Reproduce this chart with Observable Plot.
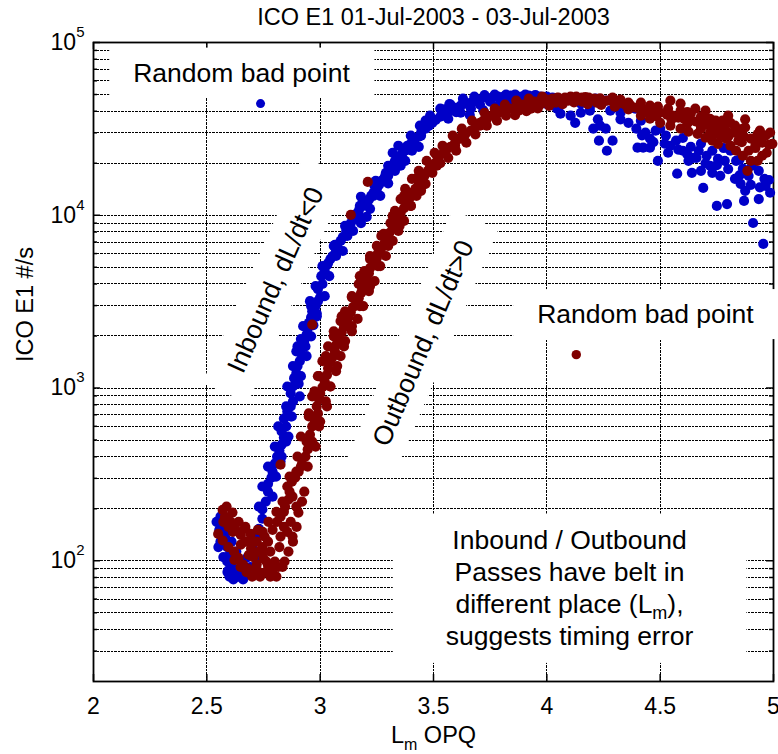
<!DOCTYPE html>
<html><head><meta charset="utf-8">
<script src="https://cdn.jsdelivr.net/npm/d3@7"></script>
<script src="https://cdn.jsdelivr.net/npm/@observablehq/plot@0.6"></script>
<style>
body{margin:0;background:#fff;}
svg{font-family:"Liberation Sans",Arial,sans-serif;}
</style></head><body><div id="chart"></div>
<script>
const title = "ICO E1 01-Jul-2003 - 03-Jul-2003";
const xLabel = "Lm OPQ";
const yLabel = "ICO E1 #/s";
const xTicks = [2, 2.5, 3, 3.5, 4, 4.5, 5];
const yTicks = [1e2, 1e3, 1e4, 1e5];
const yTickLabels = ["10^2", "10^3", "10^4", "10^5"];
const xGrid = [2.5, 3, 3.5, 4, 4.5];
const yGrid = [30,40,50,60,70,80,90,100,200,300,400,500,600,700,800,900,1000,2000,3000,4000,5000,6000,7000,8000,9000,10000,20000,30000,40000,50000,60000,70000,80000,90000];

// Inbound passes (dL/dt<0), [L, counts/s]
const inbound = [
[2.56,180],[2.57,157],[2.58,138],[2.59,120],[2.60,108],[2.61,95],[2.63,86],[2.64,81],[2.60,81],[2.59,99],[2.56,129],[2.555,151],[2.595,88],[2.65,84],[2.67,92],[2.65,99],
[2.543,168],[2.551,120],[2.573,105],[2.591,86],[2.617,78],[2.66,78],[2.63,113],[2.609,129],[2.587,151],[2.693,92],[2.715,105],
[2.68,105],[2.70,120],[2.715,138],[2.73,153],[2.745,175],[2.745,198],[2.76,220],[2.77,251],[2.77,279],[2.785,303],[2.79,328],[2.80,365],[2.81,401],[2.82,435],[2.83,470],[2.84,517],[2.83,560],[2.85,599],[2.84,665],[2.855,732],[2.87,782],[2.88,836],[2.87,930],[2.88,1020],[2.885,1140],[2.895,1220],[2.90,1340],[2.91,1430],[2.915,1590],[2.92,1740],[2.93,1870],[2.94,2040],[2.945,2200],[2.95,2380],[2.96,2560],[2.965,2780],[2.98,2980],[2.99,3180],[3.00,3350],[2.99,3740],[3.01,4000],[3.005,4440],[3.02,4750],[3.03,5150],[3.045,5580],[3.055,5810],[3.07,6210],[3.075,6640],[3.09,7100],[3.10,7480],[3.115,8110],[3.125,8550],[3.135,9000],[3.15,9520],[3.16,10200],[3.17,10590],[3.19,11330],[3.20,11800],[3.215,12300],[3.225,12950],[3.235,13500],[3.25,14200],[3.26,15000],[3.27,15820],[3.285,16700],[3.29,17600],[3.305,18600],[3.32,19600],[3.33,20670],[3.345,21800],[3.36,22700],[3.375,23630],[3.39,24600],[3.40,25900],[3.415,27000],[3.435,28500],[3.445,30100],[3.465,31700],[3.48,33000],[3.495,34300],[3.51,35700],[3.53,37200],[3.55,38200],[3.565,39700],[3.585,41000],[3.60,41900],[3.62,43100],[3.64,44300],[3.665,44900],[3.685,46070],[3.705,46700],[3.735,48000],[3.76,48000],[3.785,48600],[3.81,48600],[3.84,49250],[3.865,49250],[3.89,48600],[3.92,49250],[3.945,49250],[3.97,48600],[4.00,48600],[4.025,48000],[4.05,47300],[4.08,47300],[4.105,46700],[4.13,46070],
[2.73,206],[2.745,269],[2.77,351],[2.80,458],[2.815,599],[2.85,782],[2.855,1020],[2.88,1340],[2.90,1740],[2.925,2280],[2.96,2980],[2.98,3890],[3.01,5080],[3.06,6640],[3.11,8670],[3.175,11330],[3.24,14800],[3.30,19340],[3.385,25260],[3.475,32990],
[2.79,235],[2.805,307],[2.83,401],[2.86,524],[2.875,684],[2.91,894],[2.915,1170],[2.94,1530],[2.96,1990],[2.985,2600],[3.02,3400],[3.04,4440],[3.07,5810],[3.12,7590],[3.17,9910],[3.235,12950],[3.30,16920],[3.36,22100],[3.445,28870],[3.535,37710],
[2.97,2310],[2.915,1920],[2.895,1630],[2.935,1740],[2.87,684],[2.825,375],[2.85,490],[2.905,1060],[2.955,3180],[2.985,2700],[3.035,5290],[3.065,6730],[3.10,6210],[3.145,8110],[3.18,9000],[3.205,9780],[3.18,12800],[3.245,15820],[3.22,10900],[3.30,15300],[3.33,18090],[3.355,19340],[3.265,12950],[3.375,20670],[3.405,23630],[3.435,24900],[3.32,23000],[3.345,25260],[3.40,28870],[3.44,32990],[3.485,37710],[3.53,41400],[3.575,43700],[3.465,35270],[3.565,36200],[3.62,39200],[3.665,41400],[3.705,43700],[3.75,45500],[3.795,46070],[3.63,47300],[3.68,48600],[3.725,49600],[3.77,49900],[3.82,49900],[3.86,49900],[3.905,49900],[3.95,49600],
[3.55,41000],[3.60,39500],[3.66,38000],[3.72,40500],[3.78,42500],[3.84,44500],[3.88,45500],[3.93,46000],[3.99,45500],[4.04,43500],[3.70,45000],[3.57,44000],
[4.06,38700],[4.105,37710],[4.15,39200],[4.19,40310],[4.225,35900],[4.045,41400],[3.995,44300],[3.955,44900],[4.235,32990],[4.26,31700],[4.29,27010],[4.325,35900],[4.36,34300],[4.395,31700],[4.415,35270],[4.435,30100],[4.455,27800],[4.48,30860],[4.50,31700],[4.525,28870],[4.545,25260],[4.57,27010],[4.60,23630],[4.635,24900],[4.67,23630],[4.705,22100],[4.73,23630],[4.755,21200],[4.785,20670],[4.81,23630],[4.835,20670],[4.865,18600],[4.89,16920],[4.905,19340],[4.935,18090],[4.96,16250],
[4.42,29000],[4.47,26500],[4.52,26000],[4.58,24000],[4.62,22500],[4.66,21500],[4.70,20000],[4.75,19500],[4.80,18500],[4.85,17000],[4.90,15000],[4.94,14500],[4.98,16000],[4.60,28000],[4.68,26000],[4.78,24500],[4.85,21000],
[4.40,24600],[4.425,24600],[4.455,24600],[4.23,27010],[4.265,23630],[4.49,20670],[4.575,17400],[4.64,17600],[4.645,21500],[4.69,14400],[4.75,11330],[4.795,11600],[4.855,15200],[4.87,12110],[4.91,9020],[4.955,6820],[4.965,14800],[4.985,13500],[4.935,12400],[4.875,13840],[4.72,19340],[4.68,18090],[4.625,20670],[4.535,23000],[4.765,16920],[4.83,16250],[4.73,17600],[4.125,34300],[4.205,31700],
[4.17,47300],[4.215,47300],[4.26,46070],[4.30,44900],[4.345,43100],[4.39,41400],[4.15,44300],[4.19,42500],[4.28,40310],[4.325,39200]
];
const inboundBad = [[2.737, 44300]];

// Outbound passes (dL/dt>0), [L, counts/s]
const outbound = [
[2.57,197],[2.58,180],[2.605,168],[2.625,153],[2.65,141],[2.67,129],[2.695,118],[2.705,105],[2.72,95],[2.73,86],[2.55,143],[2.57,131],[2.595,120],[2.62,113],[2.64,104],[2.66,95],[2.68,90],[2.70,81],[2.735,81],[2.76,86],[2.77,94],[2.75,103],[2.73,113],[2.745,120],[2.77,129],[2.78,113],[2.80,99],[2.815,92],[2.79,151],[2.81,168],[2.825,180],[2.84,192],[2.84,157],[2.855,147],[2.845,206],[2.86,226],[2.865,251],[2.855,269],[2.875,287],[2.89,303],[2.905,328],[2.915,351],[2.88,129],[2.82,120],[2.87,168],[2.895,206],[2.92,220],[2.93,251],[2.825,138],[2.78,81],[2.715,90],[2.685,108],[2.65,124],[2.755,138],[2.725,151],[2.695,133],[2.67,157],[2.615,147],
[2.587,206],[2.613,190],[2.64,168],[2.666,153],[2.693,143],[2.72,129],[2.746,110],[2.763,99],[2.79,88],[2.807,81],[2.843,99],[2.86,113],[2.878,138],[2.896,157],[2.904,190],[2.878,235],[2.834,220],[2.807,192],[2.772,168],[2.746,147],[2.596,157],[2.573,168],[2.675,86],[2.649,92],[2.622,101],[2.834,92],
[2.92,365],[2.935,401],[2.945,441],[2.94,490],[2.955,538],[2.965,599],[2.975,657],[2.99,713],[2.985,782],[2.995,860],[3.00,930],[3.01,1010],[3.02,1090],[3.03,1190],[3.035,1300],[3.045,1410],[3.055,1510],[3.065,1630],[3.07,1770],[3.08,1920],[3.095,2100],[3.105,2250],[3.115,2410],[3.125,2560],[3.135,2740],[3.145,2940],[3.16,3140],[3.17,3310],[3.18,3540],[3.185,3790],[3.195,4050],[3.205,4320],[3.215,4620],[3.22,4940],[3.235,5290],[3.25,5650],[3.255,6040],[3.27,6460],[3.285,6910],[3.29,7390],[3.305,7890],[3.32,8430],[3.33,9020],[3.345,9650],[3.355,10300],[3.37,11000],[3.38,11800],[3.395,12600],[3.405,13500],[3.42,14200],[3.435,15000],[3.445,15820],[3.46,16920],[3.475,18090],[3.485,19100],[3.505,19900],[3.52,21200],[3.54,22700],[3.555,23630],[3.575,24900],[3.595,26300],[3.62,27800],[3.64,29400],[3.665,30860],[3.685,32500],[3.705,34300],[3.735,35900],[3.76,37710],[3.785,39200],[3.815,40310],[3.84,41400],[3.865,42500],[3.89,43700],[3.92,44900],[3.945,45500],[3.97,46070],[4.00,46700],[4.025,47300],[4.05,48000],[4.08,48000],[4.105,48600],[4.13,48600],[4.155,48000],[4.185,48000],[4.21,47300],[4.235,46700],[4.265,46070],[4.29,45500],[4.315,44300],[4.345,43700],[4.37,43100],[4.395,41900],[4.42,41400],[4.45,40310],[4.475,39700],[4.50,39200],[4.53,38200],[4.555,37710],[4.58,36700],[4.605,36200],[4.635,35270],[4.66,34800],[4.685,33800],[4.71,33400],[4.74,32500],[4.765,31700],[4.79,30860],[4.82,30100],[4.845,29400],[4.87,28500],[4.90,27800],[4.925,27010],[4.95,26300],[4.98,25600],
[2.865,307],[2.90,401],[2.915,524],[2.95,684],[2.965,894],[2.995,1170],[3.025,1530],[3.06,1990],[3.095,2600],[3.14,3400],[3.175,4440],[3.22,5810],[3.27,7590],[3.32,9910],[3.37,12950],[3.435,16920],[3.515,22100],[3.625,28870],[3.72,35270],
[2.945,351],[2.98,458],[2.995,599],[3.03,782],[3.045,1020],[3.075,1340],[3.105,1740],[3.14,2280],[3.175,2980],[3.22,3890],[3.255,5080],[3.30,6640],[3.35,8670],[3.40,11330],[3.45,14800],[3.515,19340],[3.595,25260],[3.705,32990],[3.80,40310],
[2.895,328],[2.965,490],[3.00,640],[2.95,713],[3.025,836],[2.975,956],[3.045,1020],[2.99,1170],[3.07,1250],[3.01,1430],[3.09,1530],[3.035,1740],[3.11,1870],[3.06,2130],[3.14,2130],[3.09,2440],[3.165,2510],[3.11,2780],[3.19,2980],[3.14,3350],[3.215,3640],[3.17,4000],[3.24,4160],[3.195,4750],[3.265,5080],[3.22,5580],[3.29,5810],[3.25,6640],[3.32,7100],[3.28,7800],[3.345,8110],[3.31,9020],[3.37,9270],[3.33,10590],[3.40,11330],[3.355,12400],[3.425,12950],[3.375,14200],[3.445,13840],[3.405,16250],[3.465,15200],[3.435,18090],[3.495,17600],[3.47,20670],[3.53,20000],[3.505,23000],[3.565,21500],[3.54,25260],[3.60,23630],[3.585,28870],[3.645,26300],[3.625,31700],[3.685,29400],[3.67,35270],[3.735,32990],[3.725,39200],[3.78,35270],[3.77,41400],[3.82,37710],[3.815,43700],[3.875,40310],[3.865,46070],[3.93,41400],[3.92,47300],[3.97,43700],[3.98,48600],[4.04,44900],[4.045,47800],[4.095,46070],[4.105,48300],[4.155,45500],[4.17,48300],[4.22,44900],[4.235,47500],[4.29,48000],[4.325,46700],[4.36,44900],[4.415,44900],[4.455,43100],[4.49,42500],[4.535,41400],[4.59,40310],[4.635,38700],[4.68,37200],[4.72,36200],[4.775,35270],[4.81,34300],[4.875,32300],[4.94,30860],[4.985,30100],
[3.86,38000],[3.91,40000],[3.96,41500],[4.01,43000],[4.07,44000],[4.12,45000],[4.18,44000],[4.24,43500],[4.30,42500],[4.36,41000],[4.43,39500],[4.48,37500],[4.55,35800],[4.62,34000],[4.68,33000],[4.74,30000],[4.80,28500],[4.86,26500],[4.92,24500],[4.97,23000],[4.62,39500],[4.70,36500],[4.78,33500],[4.86,31500],[4.93,29500],
[4.415,37710],[4.455,36200],[4.50,34300],[4.545,32990],[4.59,31700],[4.625,30500],[4.665,29600],[4.70,28100],[4.73,27010],[4.755,25900],[4.79,27800],[4.81,25260],[4.835,23630],[4.865,22100],[4.89,23630],[4.90,20670],[4.92,25260],[4.95,22100],[4.965,28870],[4.995,25900],[4.885,18090],[4.93,20670],[4.845,27010],[4.72,30100],[4.68,31700],[4.765,28870],[4.745,35270],[4.70,40310],[4.655,41400],[4.59,44300],[4.545,46070],[4.875,35900],[4.83,32990],[4.80,37710],
[3.21,15600],[3.135,10050],[2.965,2330],[2.825,360]
];
const outboundBad = [[4.13, 1560]];

// annotations (anchor in data units)
const notes = [
  {text: "Random bad point", L: 2.653, count: 66500, angle: 0},
  {text: "Random bad point", L: 4.435, count: 2660, angle: 0},
  {text: "Inbound, dL/dt<0", L: 2.805, count: 4220, angle: -66},
  {text: "Outbound, dL/dt>0", L: 3.456, count: 1815, angle: -67}
];
const noteBlock = [{text: "Inbound / Outbound\nPasses have belt in\ndifferent place (Lm),\nsuggests timing error", L: 4.10, count: 157}];

const blue = "#0000c8", red = "#800000";
const W = 778, H = 754, mL = 93, mR = 5, mT = 42, mB = 73;
const pW = W - mL - mR, pH = H - mT - mB;
const gridStyle = {stroke: "#000", strokeWidth: 1, strokeDasharray: "2.5,1", shapeRendering: "crispEdges"};
const tickStyle = {stroke: "#000", strokeWidth: 1.5};
const minorY = yGrid.filter(d => !yTicks.includes(d));

const plot = Plot.plot({
  width: W, height: H,
  marginLeft: mL, marginRight: mR, marginTop: mT, marginBottom: mB,
  style: {fontFamily: "'Liberation Sans', Arial, sans-serif", fontSize: "23px", background: "white", overflow: "visible"},
  x: {domain: [2, 5]},
  y: {type: "log", domain: [20, 1e5]},
  marks: [
    Plot.ruleY(yGrid, {y: d => d, ...gridStyle}),
    Plot.ruleX(xGrid, {x: d => d, ...gridStyle}),
    Plot.frame({stroke: "#000", strokeWidth: 1.8}),
    Plot.tickX(xTicks, {x: d => d, insetTop: pH - 7, ...tickStyle}),
    Plot.tickX(xTicks, {x: d => d, insetBottom: pH - 7, ...tickStyle}),
    Plot.tickY(yTicks, {y: d => d, insetRight: pW - 7, ...tickStyle}),
    Plot.tickY(yTicks, {y: d => d, insetLeft: pW - 7, ...tickStyle}),
    Plot.tickY(minorY, {y: d => d, insetRight: pW - 4, ...tickStyle}),
    Plot.tickY(minorY, {y: d => d, insetLeft: pW - 4, ...tickStyle}),
    Plot.axisX(xTicks, {tickSize: 0, tickPadding: 16, tickFormat: d => String(d), fontSize: 23, label: null, fill: "#000"}),
    Plot.axisY(yTicks, {tickSize: 0, tickPadding: 9, tickFormat: d => yTickLabels[yTicks.indexOf(d)], fontSize: 23, label: null, fill: "#000"}),
    Plot.text([title], {frameAnchor: "top", lineAnchor: "middle", dy: -25.5, fontSize: 23.5, fill: "#000"}),
    Plot.text([yLabel], {frameAnchor: "left", lineAnchor: "middle", rotate: -90, dx: -68, fontSize: 23.5, fill: "#000"}),
    Plot.text([xLabel], {frameAnchor: "bottom", lineAnchor: "middle", dy: 53.5, fontSize: 23.5, fill: "#000"}),
    Plot.text(notes, {x: "L", y: "count", text: "text", rotate: "angle", lineAnchor: "middle", fontSize: 26.5, fill: "#000"}),
    Plot.text(noteBlock, {x: "L", y: "count", text: "text", lineAnchor: "top", lineHeight: 1.2, fontSize: 26.5, fill: "#000"}),
    Plot.dot(inbound, {x: d => d[0], y: d => d[1], r: 5.1, fill: blue}),
    Plot.dot(inboundBad, {x: d => d[0], y: d => d[1], r: 4.5, fill: blue}),
    Plot.dot(outbound, {x: d => d[0], y: d => d[1], r: 5.1, fill: red}),
    Plot.dot(outboundBad, {x: d => d[0], y: d => d[1], r: 4.7, fill: red})
  ]
});
document.getElementById("chart").append(plot);

const svg = d3.select(plot);
const allText = svg.selectAll("text");
// superscript exponents on y tick labels
allText.filter(function () { return yTickLabels.includes(this.textContent); }).each(function () {
  const t = d3.select(this);
  const [b, e] = t.text().split("^");
  t.text(b);
  t.append("tspan").attr("dy", "-13").attr("font-size", "15px").text(e);
});
// subscript m in x label
allText.filter(function () { return this.textContent === xLabel; }).each(function () {
  const t = d3.select(this);
  const s = t.text();
  t.text("");
  t.append("tspan").text(s.slice(0, 1));
  t.append("tspan").attr("dy", "7").attr("font-size", "16px").text(s.slice(1, 2));
  t.append("tspan").attr("dy", "-7").text(s.slice(2).replace(/^\s*/, " "));
});
// subscript in note block
const blockText = allText.filter(function () { return this.textContent.startsWith("Inbound / Outbound"); });
blockText.selectAll("tspan").each(function () {
  const t = d3.select(this);
  const s = t.text();
  const i = s.indexOf("(Lm)");
  if (i < 0) return;
  t.text(s.slice(0, i + 2));
  t.append("tspan").attr("dy", "6").attr("font-size", "18px").text("m");
  t.append("tspan").attr("dy", "-6").text(s.slice(i + 3));
});
// white backgrounds behind annotations
function addBox(node, px, py) {
  const bb = node.getBBox();
  const r = d3.select(node.parentNode).insert("rect", () => node)
    .attr("x", bb.x - px).attr("y", bb.y - py)
    .attr("width", bb.width + 2 * px).attr("height", bb.height + 2 * py)
    .attr("fill", "white").attr("stroke", "none");
  const tr = node.getAttribute("transform");
  if (tr) r.attr("transform", tr);
}
const noteTexts = notes.map(n => n.text);
allText.filter(function () { return noteTexts.includes(this.textContent); }).each(function () {
  const rotated = this.getAttribute("transform") && this.getAttribute("transform").includes("rotate");
  addBox(this, 24, rotated ? 10 : 11);
});
blockText.each(function () { addBox(this, 53, 12); });
</script></body></html>
